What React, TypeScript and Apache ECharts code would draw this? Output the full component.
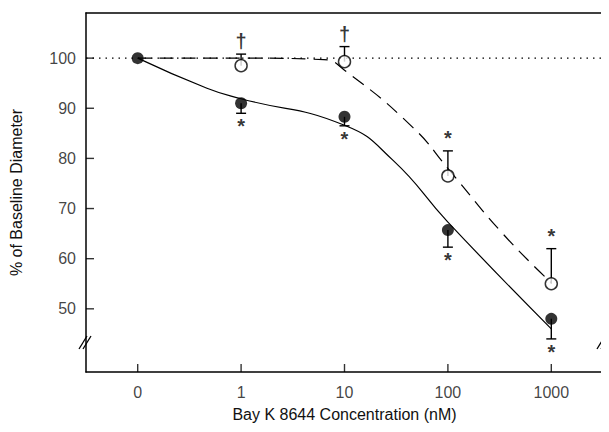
import { useEffect, useRef } from 'react';
import * as echarts from 'echarts';

const tickLabels = ['0', '1', '10', '100', '1000'];
const yTicks = [50, 60, 70, 80, 90, 100];

// measured points (x = log position 0..4)
const filled = [100, 91, 88.3, 65.7, 48];
const filledErrLow = [100, 89, 86.5, 62.3, 44];
const open = [100, 98.5, 99.3, 76.5, 55];
const openErrHigh = [100, 100.8, 102.3, 81.5, 62];

// fitted curves
const solidCurve: [number, number][] = [
  [0, 100], [0.67, 94], [1, 91.9], [2, 86.6], [2.47, 79.6], [3, 67.3], [4, 46],
];
const dashedCurve: [number, number][] = [
  [0, 100], [1, 100], [1.8, 99.7], [2, 97.6], [2.66, 86.2], [3, 78], [3.53, 65], [4, 55.2],
];

const filledMarks = ['', '*', '*', '*', '*'];
const openMarks = ['', '†', '†', '*', '*'];

const Y_MIN = 37.4;
const Y_MAX = 109;
const X_MIN = -0.5;

export default function App() {
  const ref = useRef<HTMLDivElement>(null);

  useEffect(() => {
    if (!ref.current) return;
    const chart = echarts.init(ref.current, null, { renderer: 'svg' });
    const font = 'Helvetica, "Liberation Sans", Arial, sans-serif';

    const errBar = (low: number[], high: number[], idxs: number[], capTop: boolean) => ({
      type: 'custom',
      renderItem: (params: any, api: any) => {
        const x = api.value(0);
        const p1 = api.coord([x, api.value(1)]);
        const p2 = api.coord([x, api.value(2)]);
        const capY = capTop ? p2[1] : p1[1];
        return {
          type: 'group',
          children: [
            { type: 'line', shape: { x1: p1[0], y1: p1[1], x2: p2[0], y2: p2[1] }, style: { stroke: '#000', lineWidth: 1.4 } },
            { type: 'line', shape: { x1: p1[0] - 5, y1: capY, x2: p1[0] + 5, y2: capY }, style: { stroke: '#000', lineWidth: 1.4 } },
          ],
        };
      },
      data: idxs.map((i) => [i, low[i], high[i]]),
      z: 1,
    });

    const markSeries = (vals: number[], marks: string[], pos: 'top' | 'bottom', dist: number) => ({
      type: 'scatter',
      symbolSize: 0,
      data: vals.map((v, i) => [i, v]).filter((_, i) => marks[i]),
      label: {
        show: true,
        position: pos,
        distance: dist,
        formatter: (p: any) => marks[p.data[0]],
        color: '#000',
        fontSize: 20,
        fontWeight: 'bold',
        fontFamily: font,
      },
    });

    chart.setOption({
      animation: false,
      grid: { left: 85, right: 6, top: 13, bottom: 60 },
      xAxis: [
        {
          type: 'value', min: X_MIN, max: 4.5, position: 'bottom',
          axisLine: { show: true, onZero: false, lineStyle: { color: '#000', width: 1.5 } },
          axisTick: { show: false }, axisLabel: { show: false }, splitLine: { show: false },
          name: 'Bay K 8644 Concentration (nM)', nameLocation: 'middle', nameGap: 34,
          nameTextStyle: { fontSize: 16, color: '#111', fontFamily: font },
        },
        {
          type: 'value', min: X_MIN, max: 4.5, position: 'top',
          axisLine: { show: true, onZero: false, lineStyle: { color: '#000', width: 1.5 } },
          axisTick: { show: false }, axisLabel: { show: false }, splitLine: { show: false },
        },
      ],
      yAxis: {
        type: 'value', min: Y_MIN, max: Y_MAX,
        axisLine: { show: true, onZero: false, lineStyle: { color: '#000', width: 1.5 } },
        axisTick: { show: false }, axisLabel: { show: false }, splitLine: { show: false },
        name: '% of Baseline Diameter', nameLocation: 'middle', nameGap: 62,
        nameTextStyle: { fontSize: 16, color: '#111', fontFamily: font },
      },
      graphic: [
        { type: 'line', shape: { x1: 79, y1: 349, x2: 87, y2: 336 }, style: { stroke: '#000', lineWidth: 1.3 } },
        { type: 'line', shape: { x1: 83, y1: 349, x2: 91, y2: 336 }, style: { stroke: '#000', lineWidth: 1.3 } },
        { type: 'line', shape: { x1: 597, y1: 349, x2: 605, y2: 336 }, style: { stroke: '#000', lineWidth: 1.3 } },
        { type: 'line', shape: { x1: 601, y1: 349, x2: 609, y2: 336 }, style: { stroke: '#000', lineWidth: 1.3 } },
      ],
      series: [
        // y ticks and labels
        {
          type: 'scatter', symbol: 'rect', symbolSize: [8, 1.4], symbolOffset: [4, 0],
          itemStyle: { color: '#000' },
          data: yTicks.map((v) => [X_MIN, v]),
          label: { show: true, position: 'left', distance: 10, formatter: (p: any) => String(p.data[1]), fontSize: 16, color: '#111', fontFamily: font },
        },
        // x ticks and labels
        {
          type: 'scatter', symbol: 'rect', symbolSize: [1.4, 8], symbolOffset: [0, -4],
          itemStyle: { color: '#000' },
          data: tickLabels.map((_, i) => [i, Y_MIN]),
          label: { show: true, position: 'bottom', distance: 12, formatter: (p: any) => tickLabels[p.data[0]], fontSize: 16, color: '#111', fontFamily: font },
        },
        // dotted baseline
        {
          type: 'line', symbol: 'none', data: [[X_MIN, 100], [4.5, 100]],
          lineStyle: { color: '#000', width: 1.3, type: [1.5, 5] },
        },
        {
          type: 'line', smooth: 0.5, symbol: 'none', data: solidCurve,
          lineStyle: { color: '#000', width: 1.2 },
        },
        {
          type: 'line', smooth: 0.5, symbol: 'none', data: dashedCurve,
          lineStyle: { color: '#000', width: 1.2, type: [14, 8] },
        },
        errBar(filledErrLow, filled, [1, 2, 3, 4], false),
        errBar(open, openErrHigh, [1, 2, 3, 4], true),
        {
          type: 'scatter', symbol: 'circle', symbolSize: 12,
          itemStyle: { color: '#fff', borderColor: '#000', borderWidth: 1.5 },
          data: open.map((v, i) => [i, v]).slice(1), z: 3,
        },
        {
          type: 'scatter', symbol: 'circle', symbolSize: 12,
          itemStyle: { color: '#000' },
          data: filled.map((v, i) => [i, v]), z: 4,
        },
        markSeries(filledErrLow, filledMarks, 'bottom', 3),
        markSeries(openErrHigh, openMarks, 'top', 3),
      ],
    });

    return () => chart.dispose();
  }, []);

  return <div ref={ref} style={{ width: 609, height: 432, margin: -8, background: '#fff' }} />;
}
